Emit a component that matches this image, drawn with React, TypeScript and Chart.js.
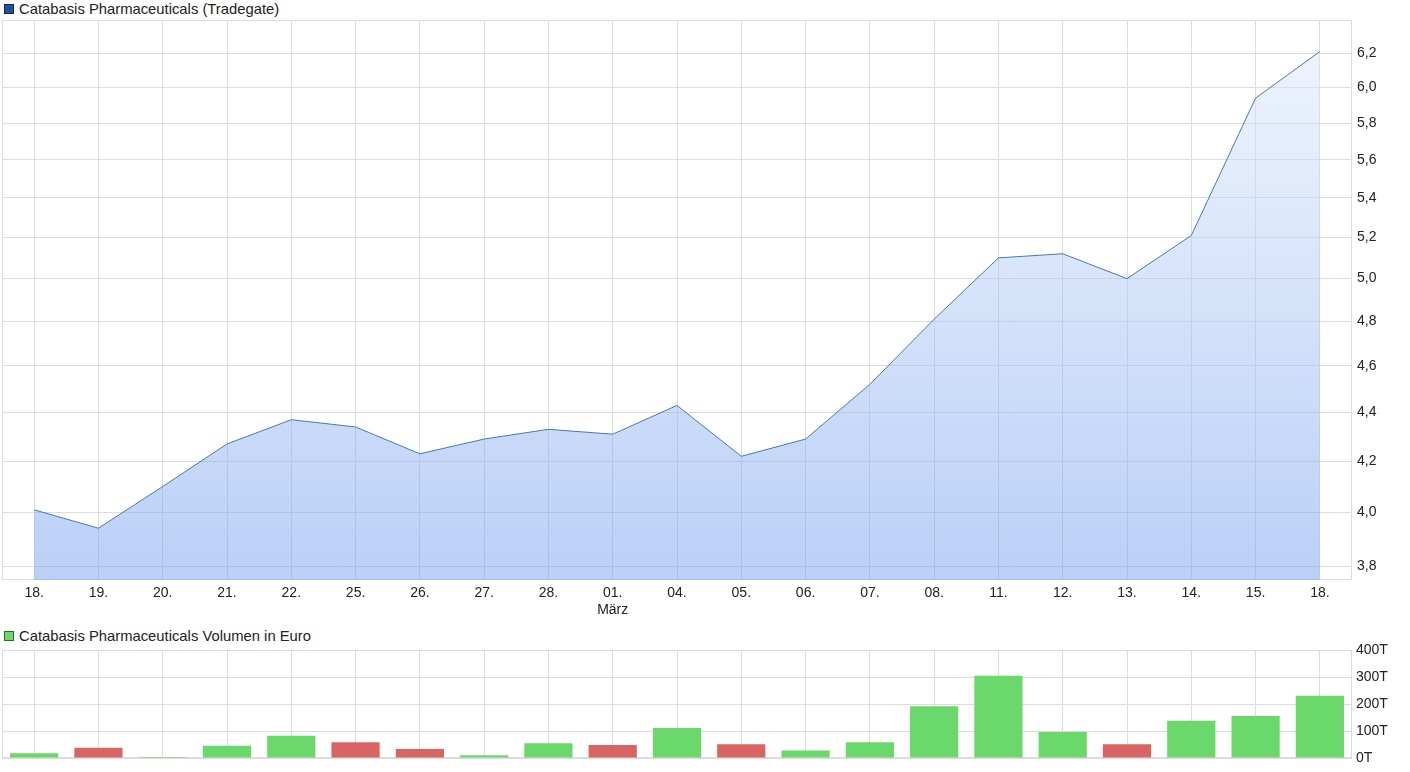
import React, { useEffect, useRef } from "react";
import { Chart, registerables } from "chart.js";

Chart.register(...registerables);

const categories: (string | string[])[] = [
  "18.", "19.", "20.", "21.", "22.", "25.", "26.", "27.", "28.", ["01.", "März"],
  "04.", "05.", "06.", "07.", "08.", "11.", "12.", "13.", "14.", "15.", "18.",
];

const prices: number[] = [
  4.01, 3.94, 4.10, 4.27, 4.37, 4.34, 4.23, 4.29, 4.33, 4.31,
  4.43, 4.22, 4.29, 4.52, 4.81, 5.10, 5.12, 5.00, 5.21, 5.94, 6.21,
];

const volumes: number[] = [
  18000, 38000, 4000, 45000, 82000, 58000, 33000, 10000, 55000, 48000,
  111000, 51000, 28000, 58000, 192000, 305000, 96000, 51000, 138000, 156000, 231000,
];

const priceTicks: number[] = [3.8, 4.0, 4.2, 4.4, 4.6, 4.8, 5.0, 5.2, 5.4, 5.6, 5.8, 6.0, 6.2];
const volumeTicks: number[] = [0, 100000, 200000, 300000, 400000];

const priceTitle = "Catabasis Pharmaceuticals (Tradegate)";
const volumeTitle = "Catabasis Pharmaceuticals Volumen in Euro";

const FONT = "'Liberation Sans', Arial, sans-serif";
const GRID = "#dcdcdc";
const TEXT = "#222";

const framePlugin = {
  id: "frame",
  beforeDatasetsDraw(chart: any) {
    const { ctx, chartArea } = chart;
    ctx.save();
    ctx.strokeStyle = GRID;
    ctx.lineWidth = 1;
    ctx.strokeRect(
      Math.round(chartArea.left) + 0.5,
      Math.round(chartArea.top) + 0.5,
      Math.round(chartArea.right - chartArea.left) - 1,
      Math.round(chartArea.bottom - chartArea.top) - 1
    );
    ctx.restore();
  },
};

export default function App() {
  const topRef = useRef<HTMLCanvasElement>(null);
  const botRef = useRef<HTMLCanvasElement>(null);

  useEffect(() => {
    Chart.defaults.font.family = FONT;
    const barColors = volumes.map((_, i) =>
      i === 0 || prices[i] >= prices[i - 1] ? "#6ad86a" : "#d96464"
    );

    const top = new Chart(topRef.current!, {
      type: "line",
      data: {
        labels: categories,
        datasets: [
          {
            data: prices,
            borderColor: "#4a78aa",
            borderWidth: 1,
            pointRadius: 0,
            tension: 0,
            fill: "start",
            backgroundColor: (c: any) => {
              const area = c.chart.chartArea;
              if (!area) return "rgba(117,161,237,0.5)";
              const g = c.chart.ctx.createLinearGradient(0, area.top, 0, area.bottom);
              g.addColorStop(0, "rgba(225,236,252,0.5)");
              g.addColorStop(1, "rgba(117,161,237,0.5)");
              return g;
            },
          },
        ],
      },
      options: {
        responsive: false,
        animation: false,
        layout: { padding: { top: 20, left: 2, right: 0, bottom: 0 } },
        plugins: { legend: { display: false }, tooltip: { enabled: false } },
        scales: {
          x: {
            offset: true,
            grid: { offset: false, color: GRID, drawTicks: false },
            border: { display: false },
            ticks: { color: TEXT, font: { size: 14 }, padding: 5, maxRotation: 0, autoSkip: false },
            afterFit: (s: any) => { s.height = 40; },
          },
          y: {
            type: "logarithmic",
            position: "right",
            min: 3.75,
            max: 6.4,
            grid: { color: GRID, drawTicks: false },
            border: { display: false },
            afterBuildTicks: (s: any) => { s.ticks = priceTicks.map((v) => ({ value: v })); },
            ticks: {
              color: TEXT,
              font: { size: 14 },
              padding: 5,
              callback: (v: any) => Number(v).toFixed(1).replace(".", ","),
            },
            afterFit: (s: any) => { s.width = 58; },
          },
        },
      },
      plugins: [framePlugin],
    } as any);

    const bot = new Chart(botRef.current!, {
      type: "bar",
      data: {
        labels: categories,
        datasets: [
          {
            data: volumes,
            backgroundColor: barColors,
            borderWidth: 0,
            barPercentage: 0.75,
            categoryPercentage: 1,
          },
        ],
      },
      options: {
        responsive: false,
        animation: false,
        layout: { padding: { top: 30, left: 2, right: 0, bottom: 14 } },
        plugins: { legend: { display: false }, tooltip: { enabled: false } },
        scales: {
          x: {
            offset: true,
            grid: { offset: false, color: GRID, drawTicks: false },
            border: { display: false },
            ticks: { display: false },
          },
          y: {
            position: "right",
            min: 0,
            max: 400000,
            grid: { color: GRID, drawTicks: false },
            border: { display: false },
            afterBuildTicks: (s: any) => { s.ticks = volumeTicks.map((v) => ({ value: v })); },
            ticks: {
              color: TEXT,
              font: { size: 14 },
              padding: 4,
              callback: (v: any) => Math.round(Number(v) / 1000) + "T",
            },
            afterFit: (s: any) => { s.width = 58; },
          },
        },
      },
      plugins: [framePlugin],
    } as any);

    return () => {
      top.destroy();
      bot.destroy();
    };
  }, []);

  const legendStyle: React.CSSProperties = {
    position: "absolute",
    left: 4,
    display: "flex",
    alignItems: "center",
    font: `14.8px ${FONT}`,
    lineHeight: "18px",
    color: TEXT,
    whiteSpace: "nowrap",
  };
  const box = (bg: string, border: string): React.CSSProperties => ({
    width: 8,
    height: 8,
    background: bg,
    border: `1px solid ${border}`,
    marginRight: 5,
  });

  return (
    <div style={{ position: "absolute", left: 0, top: 0, width: 1410, height: 772, background: "#fff" }}>
      <div style={{ ...legendStyle, top: 0 }}>
        <div style={box("#1f4fa0", "#0b2a66")} />
        <span>{priceTitle}</span>
      </div>
      <canvas ref={topRef} width={1410} height={620} style={{ position: "absolute", left: 0, top: 0 }} />
      <div style={{ ...legendStyle, top: 627 }}>
        <div style={box("#6ad86a", "#2a6a2a")} />
        <span>{volumeTitle}</span>
      </div>
      <canvas ref={botRef} width={1410} height={152} style={{ position: "absolute", left: 0, top: 620 }} />
    </div>
  );
}
